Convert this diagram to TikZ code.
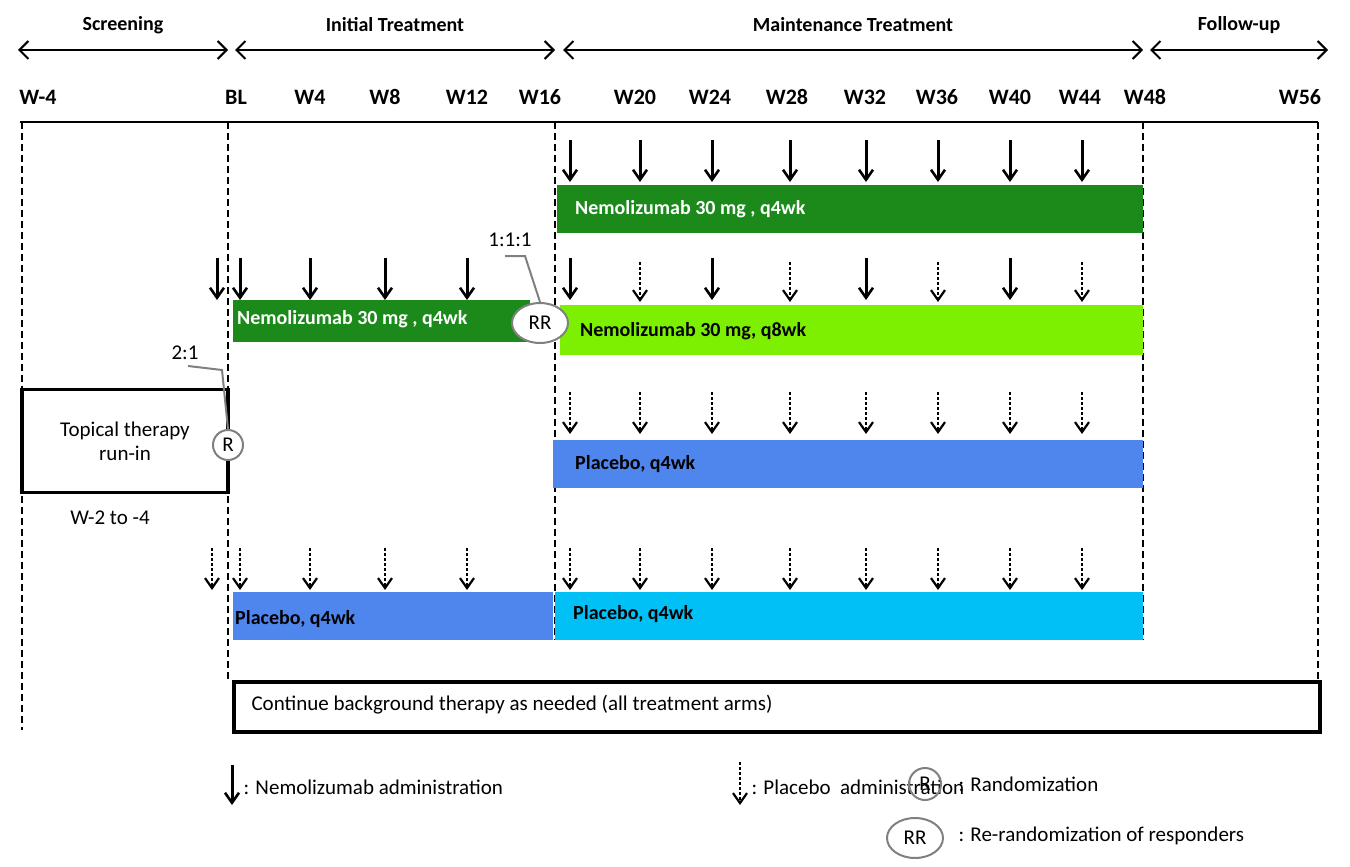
\documentclass[tikz,border=0pt]{standalone}
\usepackage{fontspec}
\setmainfont{Carlito}
\usetikzlibrary{arrows.meta,shapes.geometric}
\definecolor{dg}{HTML}{1B8A1B}
\definecolor{lg}{HTML}{7CF000}
\definecolor{pb}{HTML}{4F86EE}
\definecolor{cy}{HTML}{00C0F5}
\begin{document}
\begin{tikzpicture}[x=1pt,y=-1pt,
  hdr/.style={font=\fontsize{20}{22}\selectfont\bfseries},
  wk/.style={font=\fontsize{22}{24}\selectfont\bfseries},
  vd/.style={dash pattern=on 7pt off 4pt,line width=2.6pt},
  sol/.style={line width=3pt,-{Straight Barb[length=10pt,width=14pt,line width=2.6pt]}},
  dot/.style={line width=2.8pt,dash pattern=on 2.5pt off 2.5pt,-{Straight Barb[length=10pt,width=14pt,line width=2.2pt]}},
  bar/.style={draw=none,anchor=north west,inner sep=0pt,font=\fontsize{20}{22}\selectfont\bfseries},
  txt/.style={font=\fontsize{21}{24}\selectfont},
  lead/.style={gray,line width=2pt}]
\useasboundingbox (0,0) rectangle (1350,867);
\foreach \a/\b/\t/\n in {18/228/Screening/hs,235/555/Initial Treatment/hi,563/1143/Maintenance Treatment/hm,1150/1328/Follow-up/hf}{
  \coordinate (\n a) at (\a,50); \coordinate (\n b) at (\b,50);
  \draw[line width=2pt,{Straight Barb[length=9pt]}-{Straight Barb[length=9pt]}] (\n a) -- (\n b);
  \node[hdr] (\n) at ({(\a+\b)/2},25) {\t};}
\foreach \x/\t in {38/W-4,236/BL,310/W4,385/W8,467/W12,540/W16,635/W20,710/W24,787/W28,865/W32,937/W36,1010/W40,1080/W44,1145/W48,1300/W56}
  \node[wk] at (\x,97) {\t};
\coordinate (L0) at (20,122); \coordinate (L1) at (1318,122);
\draw[line width=2.6pt] (L0) -- (L1);
\draw[vd] (22,122) -- (22,730);
\draw[vd] (228,122) -- (228,680);
\draw[vd] (555,122) -- (555,640);
\draw[vd] (1143,122) -- (1143,640);
\draw[vd] (1318,122) -- (1318,680);
% bars
\fill[dg] (557,185) rectangle (1143,233);
\node[bar,text=white] (b1) at (575,200) {Nemolizumab 30 mg , q4wk};
\fill[dg] (233,300) rectangle (530,342);
\node[bar,text=white] (b2) at (237,310) {Nemolizumab 30 mg , q4wk};
\fill[lg] (560,305) rectangle (1143,355);
\node[bar] (b3) at (580,322) {Nemolizumab 30 mg, q8wk};
\fill[pb] (553,440) rectangle (1143,488);
\node[bar] (b4) at (575,455) {Placebo, q4wk};
\fill[pb] (233,592) rectangle (553,640);
\node[bar] (b5) at (235,610) {Placebo, q4wk};
\fill[cy] (555,592) rectangle (1143,640);
\node[bar] (b6) at (573,605) {Placebo, q4wk};
% arrows
\foreach \x in {570,640,712,790,866,938,1010,1082} \draw[sol] (\x,140) -- (\x,182);
\draw[sol] (217,258) -- (217,300);
\foreach \x in {240,310,385,467,570,712,866,1010} \draw[sol] (\x,258) -- (\x,300);
\foreach \x in {640,790,938,1082} \draw[dot] (\x,262) -- (\x,302);
\foreach \x in {570,640,712,790,866,938,1010,1082} \draw[dot] (\x,392) -- (\x,434);
\foreach \x in {212,240,310,385,467,570,640,712,790,866,938,1010,1082} \draw[dot] (\x,548) -- (\x,590);
% RR
\node[draw=gray,fill=white,line width=2pt,ellipse,minimum width=56pt,minimum height=40pt,inner sep=0pt,txt] (RR) at (540,323) {RR};
\node[txt] (r111) at (510,240) {1:1:1};
\draw[lead] (505,256) -- (525,256) -- (RR.north);
% topical
\node[draw,line width=3.5pt,minimum width=206pt,minimum height=103pt,align=center,txt] (top) at (125,441) {Topical therapy\\run-in};
\node[draw=gray,fill=white,line width=2pt,circle,minimum size=30pt,inner sep=0pt,txt] (R) at (228,445) {R};
\node[txt] (r21) at (185,353) {2:1};
\draw[lead] (188,366) -- (222,370) -- (R.north);
\node[txt] (w2) at (110,518) {W-2 to -4};
% background
\node[draw,line width=3.5pt,minimum width=1086pt,minimum height=50pt,anchor=north west,inner sep=0pt] (bg) at (232,680) {};
\node[txt,anchor=west] at (248,705) {Continue background therapy as needed (all treatment arms)};
% legend
\draw[sol] (232,765) -- (232,805);
\node[txt,anchor=west] (l1) at (240,787) {: Nemolizumab administration};
\draw[dot] (740,762) -- (740,805);
\node[txt,anchor=west] (l2) at (748,787) {: Placebo\ \ administration};
\node[draw=gray,line width=2pt,circle,minimum size=32pt,inner sep=0pt,txt] (lR) at (925,784) {R};
\node[txt,anchor=west] (l3) at (955,784) {: Randomization};
\node[draw=gray,line width=2pt,ellipse,minimum width=56pt,minimum height=40pt,inner sep=0pt,txt] (lRR) at (915,838) {RR};
\node[txt,anchor=west] (l4) at (955,836) {: Re-randomization of responders};
\end{tikzpicture}
\end{document}
